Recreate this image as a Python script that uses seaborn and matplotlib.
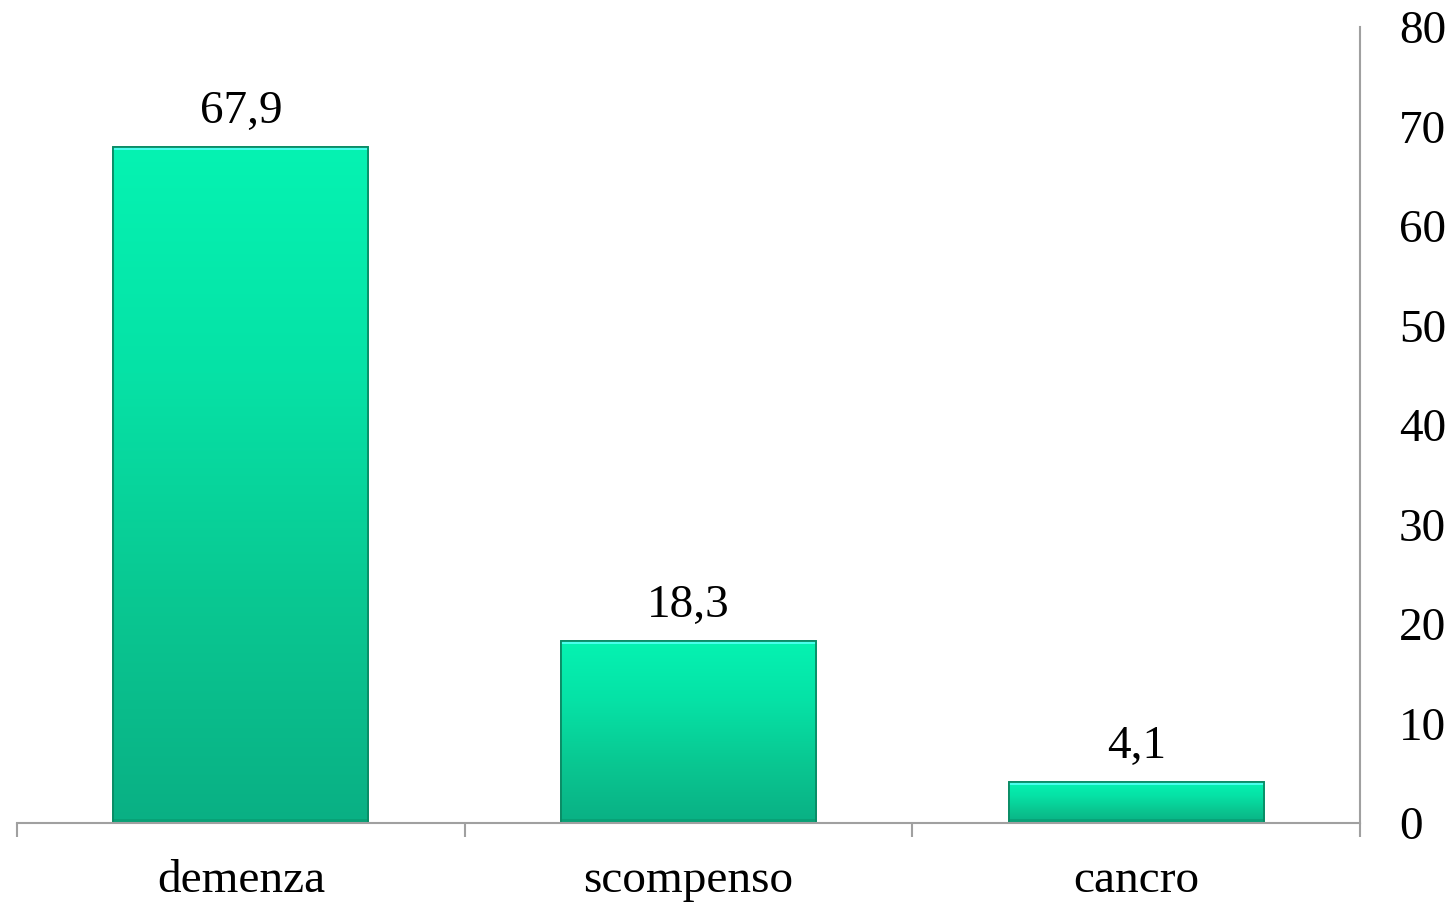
import numpy as np
import pandas as pd
import matplotlib
matplotlib.use("Agg")
import matplotlib.pyplot as plt
from matplotlib.colors import LinearSegmentedColormap
import seaborn as sns

categories = ["demenza", "scompenso", "cancro"]
values = [67.9, 18.3, 4.1]
value_labels = ["67,9", "18,3", "4,1"]
y_ticks = [0, 10, 20, 30, 40, 50, 60, 70, 80]

sns.set_theme(style="white")
plt.rcParams["font.family"] = ["Liberation Serif", "DejaVu Serif"]

df = pd.DataFrame({"causa": categories, "valore": values})

fig = plt.figure(figsize=(14.56, 9.05), dpi=100)
ax = fig.add_axes([0.0117, 0.0906, 0.9224, 0.8796])

sns.barplot(data=df, x="causa", y="valore", ax=ax, width=0.57,
            color="#08D89C", edgecolor="#0A8F68", linewidth=1.2,
            saturation=1.0)

ax.set_xlim(-0.5, 2.5)
ax.set_ylim(0, 80)

# per-bar vertical gradient (dark at the base, bright at the top)
grad = LinearSegmentedColormap.from_list(
    "bar_grad", ["#0AB084", "#09C892", "#06E2A6", "#05F3B2"])
gy = np.linspace(0, 1, 256).reshape(-1, 1)
px_per_unit = (0.8796 * 905) / 80.0
for patch in ax.patches:
    x0, y0 = patch.get_x(), patch.get_y()
    w, h = patch.get_width(), patch.get_height()
    z = patch.get_zorder()
    im = ax.imshow(gy, cmap=grad, origin="lower", aspect="auto",
                   extent=[x0, x0 + w, y0, y0 + h], zorder=z + 0.1,
                   interpolation="bilinear")
    im.set_clip_path(patch)
    # bevel: bright rim on top, darker rim at the base
    rim = 3.0 / px_per_unit
    ax.fill_between([x0, x0 + w], y0 + h - rim, y0 + h,
                    color="#4DFFF0", alpha=0.95, linewidth=0, zorder=z + 0.2)
    ax.fill_between([x0, x0 + w], y0, y0 + rim * 1.2,
                    color="#08976E", alpha=0.6, linewidth=0, zorder=z + 0.2)
    ax.add_patch(plt.Rectangle((x0, y0), w, h, fill=False,
                               edgecolor="#0A8A64", linewidth=1.3,
                               zorder=z + 0.3))
ax.set_xlim(-0.5, 2.5)
ax.set_ylim(0, 80)

for i, (v, lab) in enumerate(zip(values, value_labels)):
    ax.annotate(lab, (i, v), xytext=(0, 10), textcoords="offset points",
                ha="center", va="bottom", fontsize=34, color="black")

# axes styling
for s in ["left", "top"]:
    ax.spines[s].set_visible(False)
for s in ["right", "bottom"]:
    ax.spines[s].set_color("#A0A0A0")
    ax.spines[s].set_linewidth(1.5)

ax.yaxis.tick_right()
ax.set_yticks(y_ticks)
ax.set_yticklabels([str(t) for t in y_ticks])
ax.tick_params(axis="y", length=0, pad=28, labelsize=34, labelcolor="black")

ax.set_xticks(range(len(categories)))
ax.set_xticklabels(categories)
ax.set_xticks([-0.5, 0.5, 1.5, 2.5], minor=True)
ax.tick_params(axis="x", which="major", length=0, pad=26, labelsize=34,
               labelcolor="black")
ax.tick_params(axis="x", which="minor", length=10, width=1.5,
               color="#A0A0A0", direction="out", bottom=True)
ax.set_xlabel("")
ax.set_ylabel("")
ax.grid(False)

fig.savefig("out.png", dpi=100, facecolor="white")
